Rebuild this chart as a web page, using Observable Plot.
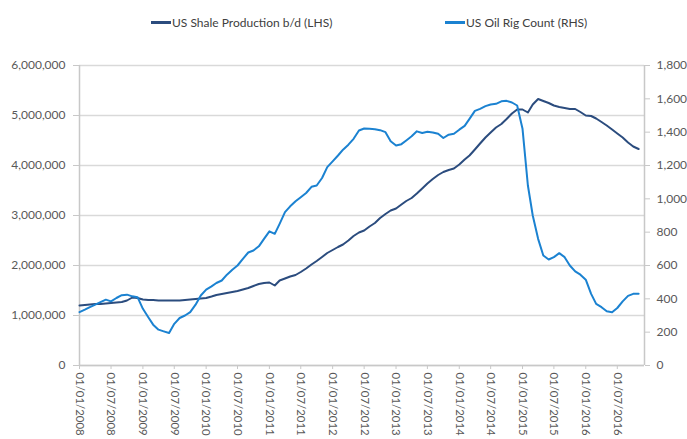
<!DOCTYPE html>
<html>
<head>
<meta charset="utf-8">
<script src="https://cdn.jsdelivr.net/npm/d3@7"></script>
<script src="https://cdn.jsdelivr.net/npm/@observablehq/plot@0.6"></script>
<style>
  html, body { margin: 0; padding: 0; background: #fff; }
  #wrap { width: 687px; height: 439px; position: relative; font-family: Lato, "Open Sans", sans-serif; }
  #legend { position: relative; height: 40px; width: 687px; font-size: 12px; color: #404040; }
  .item { position: absolute; top: 15px; display: flex; align-items: center; white-space: nowrap; }
  .sw { width: 20px; height: 3px; margin-right: 1px; }
  .xax text { font-size: 11.4px; }
</style>
</head>
<body>
<div id="wrap">
  <div id="legend"></div>
  <div id="chart"></div>
</div>
<script>
// ---- data ----
const startMonth = "2008-01-01";
const endMonth = "2016-11-01";
// US shale production, million b/d (left axis), monthly from Jan 2008
const shaleMillions = [
  1.20,1.21,1.22,1.23,1.23,1.24,1.25,1.26,1.27,1.30,1.36,1.35,
  1.32,1.31,1.31,1.30,1.30,1.30,1.30,1.30,1.31,1.32,1.33,1.34,
  1.35,1.38,1.41,1.43,1.45,1.47,1.49,1.52,1.55,1.59,1.63,1.65,
  1.66,1.60,1.70,1.74,1.78,1.81,1.87,1.94,2.02,2.09,2.17,2.25,
  2.31,2.37,2.42,2.50,2.59,2.66,2.70,2.78,2.85,2.95,3.03,3.10,
  3.14,3.22,3.29,3.35,3.44,3.54,3.64,3.73,3.81,3.87,3.91,3.94,
  4.02,4.12,4.20,4.32,4.44,4.56,4.66,4.76,4.83,4.93,5.04,5.12,
  5.12,5.06,5.22,5.33,5.29,5.25,5.20,5.17,5.15,5.13,5.13,5.07,
  5.00,4.99,4.94,4.87,4.80,4.72,4.64,4.56,4.46,4.38,4.33
];
// US oil rig count (right axis), monthly from Jan 2008
const rigCount = [
  320,335,350,365,380,395,385,405,422,425,415,410,
  340,290,245,215,205,195,250,285,300,320,365,420,
  455,475,495,510,545,575,600,640,678,690,715,760,
  805,790,850,920,955,985,1010,1035,1072,1080,1125,1190,
  1225,1260,1295,1325,1360,1410,1422,1420,1418,1412,1400,1345,
  1320,1328,1350,1375,1405,1395,1402,1398,1390,1365,1385,1390,
  1415,1438,1480,1528,1540,1556,1566,1570,1585,1588,1578,1560,
  1420,1080,900,760,660,636,650,674,650,600,565,545,
  515,430,370,350,325,320,345,385,418,430,430
];
const leftTicks = [0, 1000000, 2000000, 3000000, 4000000, 5000000, 6000000];
const rightTicks = [0, 200, 400, 600, 800, 1000, 1200, 1400, 1600, 1800];
const xTickDates = [
  "2008-01-01","2008-07-01","2009-01-01","2009-07-01","2010-01-01","2010-07-01",
  "2011-01-01","2011-07-01","2012-01-01","2012-07-01","2013-01-01","2013-07-01",
  "2014-01-01","2014-07-01","2015-01-01","2015-07-01","2016-01-01","2016-07-01"
];
const seriesNames = ["US Shale Production b/d (LHS)", "US Oil Rig Count (RHS)"];
const colors = ["#2b4c7e", "#1b82d1"];

// ---- build table ----
const months = d3.utcMonth.range(new Date(startMonth), d3.utcMonth.offset(new Date(endMonth), 1));
const table = months.map((date, i) => ({date, shale: shaleMillions[i] * 1e6, rig: rigCount[i]}));
const k = 6000000 / 1800; // right-axis -> left-axis scale factor
const xDomain = [new Date("2008-01-01"), new Date("2016-12-05")];
const xTicks = xTickDates.map(s => new Date(s));
const fmt = d3.format(",");

// ---- legend ----
const legend = document.getElementById("legend");
const legendX = [151, 445];
seriesNames.forEach((name, i) => {
  const it = document.createElement("div");
  it.className = "item";
  it.style.left = legendX[i] + "px";
  it.innerHTML = `<span class="sw" style="background:${colors[i]}"></span><span>${name}</span>`;
  legend.appendChild(it);
});

// ---- chart ----
const axisGray = "#c8c8c8";
const textGray = "#595959";
const chart = Plot.plot({
  width: 687,
  height: 399,
  marginTop: 25,
  marginBottom: 74,
  marginLeft: 79,
  marginRight: 43,
  style: {fontFamily: "Lato, 'Open Sans', sans-serif", fontSize: "12px", background: "#fff", overflow: "visible"},
  x: {type: "utc", domain: xDomain},
  y: {domain: [0, 6000000]},
  marks: [
    Plot.gridY(leftTicks, {stroke: "#d9d9d9", strokeOpacity: 1, strokeWidth: 1.5}),
    Plot.ruleX([xDomain[0], xDomain[1]], {stroke: axisGray, strokeWidth: 1.5}),
    Plot.ruleY([0], {stroke: axisGray, strokeWidth: 1.5}),
    Plot.axisY({ticks: leftTicks, tickFormat: fmt, tickSize: 6, tickPadding: 8, stroke: axisGray, fill: textGray, label: null}),
    Plot.axisY({anchor: "right", ticks: rightTicks.map(v => v * k), tickFormat: d => fmt(Math.round(d / k)), tickSize: 5, tickPadding: 7, stroke: axisGray, fill: textGray, label: null}),
    Plot.axisX({ticks: xTicks, tickFormat: d3.utcFormat("%d/%m/%Y"), tickRotate: 90, tickSize: 4, tickPadding: 3, stroke: axisGray, fill: textGray, label: null, className: "xax"}),
    Plot.lineY(table, {x: "date", y: "shale", stroke: colors[0], strokeWidth: 2}),
    Plot.lineY(table, {x: "date", y: d => d.rig * k, stroke: colors[1], strokeWidth: 2})
  ]
});
document.getElementById("chart").appendChild(chart);
</script>
</body>
</html>
